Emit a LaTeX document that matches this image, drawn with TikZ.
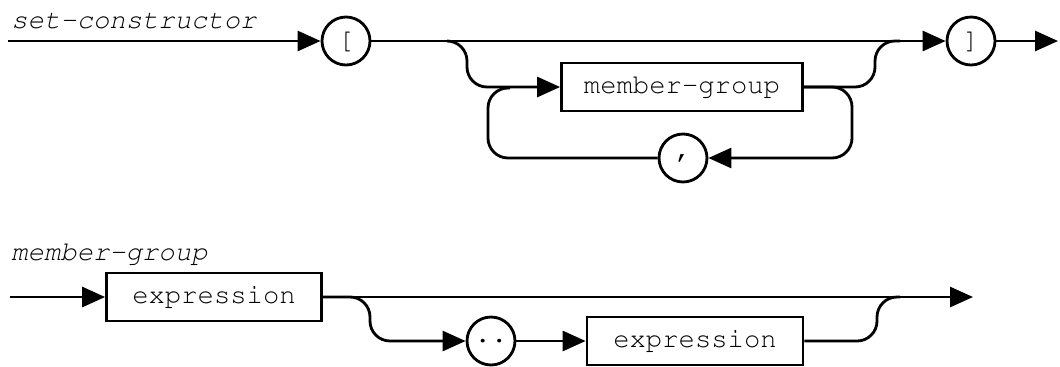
\documentclass[tikz,border=0pt]{standalone}
\usepackage[T1]{fontenc}
\usepackage{courier}
\usetikzlibrary{arrows.meta,positioning}

\begin{document}
\begin{tikzpicture}[x=0.02cm,y=-0.02cm,line width=1.6pt,
    flow/.style={-{Triangle[length=0.46cm,width=0.4cm]}},
    rc/.style={rounded corners=0.4cm},
    ntbox/.style={draw,rectangle,minimum height=0.96cm,inner sep=0pt,
      font=\ttfamily\fontsize{15.5}{18}\selectfont},
    tcirc/.style={draw,circle,minimum size=0.96cm,inner sep=0pt,
      font=\ttfamily\fontsize{15.5}{18}\selectfont},
    synname/.style={anchor=base west,inner sep=0pt,
      font=\ttfamily\itshape\fontsize{15.5}{18}\selectfont}]
      \useasboundingbox (0,0) rectangle (1060,366);
      % set-constructor: main track
      \node[synname] (setname) at (10,28) {set-constructor};
      \coordinate (sstart) at (8,41);
      \node[tcirc] (lbr) at (346,41) {[};
      \node[tcirc] (rbr) at (971,41) {]};
      \coordinate (send) at (1058,41);
      \draw[flow] (sstart) -- (lbr);
      \draw[flow] (lbr) -- (rbr);
      \draw[flow] (rbr) -- (send);
      % optional member-group list
      \node[ntbox,minimum width=4.82cm] (mg) at (682,87) {member-group};
      \node[tcirc] (comma) at (683,158) {,};
      \coordinate (b1) at (447,41);
      \coordinate (b2) at (467,41);
      \coordinate (j1) at (900,41);
      \coordinate (lr) at (852,158);
      \coordinate (ll) at (488,88);
      \coordinate (lj) at (510,88);
      \draw[flow,rc] (b1) -- (b2) |- (mg);
      \draw[rc] (mg.east) -| (875,41) -- (j1);
      \draw[flow,rc] (mg.east) -| (lr) -- (comma);
      \draw[rc] (comma) -| (ll) -- (lj);
      % member-group: main track
      \node[synname] (mgname) at (10,260) {member-group};
      \coordinate (mstart) at (10,297);
      \node[ntbox,minimum width=4.3cm] (ex1) at (214,297) {expression};
      \coordinate (mend) at (973,297);
      \draw[flow] (mstart) -- (ex1);
      \draw[flow] (ex1) -- (mend);
      % optional range part
      \node[tcirc] (dots) at (491,341) {..};
      \node[ntbox,minimum width=4.32cm] (ex2) at (695,341) {expression};
      \coordinate (j2) at (900,297);
      \draw[flow,rc] (ex1.east) -| (370,341) -- (dots);
      \draw[flow] (dots) -- (ex2);
      \draw[rc] (ex2.east) -| (877,297) -- (j2);
    \end{tikzpicture}
\end{document}
